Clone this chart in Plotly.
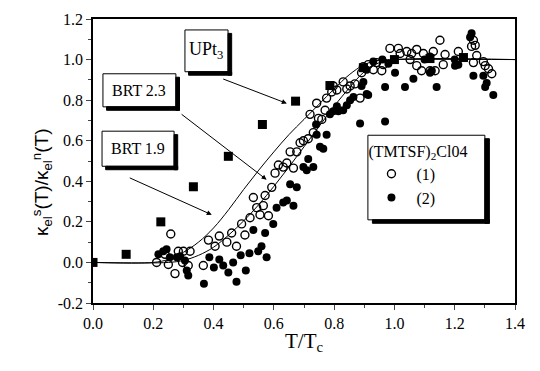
import plotly.graph_objects as go

# UPt3 data (filled squares)
upt3_t = [0.0, 0.11, 0.225, 0.333, 0.449, 0.562, 0.672, 0.786, 0.897, 1.0, 1.118, 1.229]
upt3_k = [0.0, 0.04, 0.2, 0.373, 0.523, 0.68, 0.795, 0.872, 0.96, 1.0, 1.005, 1.01]

# BRT theory curves
brt19_t = [0.0, 0.2, 0.25, 0.3, 0.35, 0.4, 0.45, 0.5, 0.55, 0.6, 0.65, 0.7, 0.75, 0.8, 0.85, 0.9, 0.95, 1.0, 1.4]
brt19_k = [0.0, 0.0, 0.015, 0.05, 0.1, 0.17, 0.26, 0.36, 0.455, 0.545, 0.63, 0.705, 0.78, 0.855, 0.925, 0.975, 0.997, 1.0, 1.0]
brt23_t = [0.0, 0.25, 0.3, 0.35, 0.4, 0.45, 0.5, 0.55, 0.6, 0.65, 0.7, 0.75, 0.8, 0.85, 0.9, 0.95, 1.0, 1.4]
brt23_k = [0.0, 0.0, 0.01, 0.035, 0.075, 0.135, 0.205, 0.285, 0.375, 0.47, 0.57, 0.67, 0.77, 0.86, 0.94, 0.985, 1.0, 1.0]

# (TMTSF)2ClO4 sample (1), open circles
s1_t = [0.211, 0.239, 0.25, 0.258, 0.272, 0.283, 0.297, 0.30, 0.316, 0.322, 0.366, 0.383, 0.405, 0.419,
        0.444, 0.46, 0.476, 0.493, 0.504, 0.521, 0.532, 0.543, 0.554, 0.565, 0.571, 0.582, 0.593, 0.604,
        0.615, 0.631, 0.643, 0.654, 0.665, 0.676, 0.687, 0.698, 0.714, 0.72, 0.731, 0.742, 0.748, 0.759,
        0.77, 0.775, 0.792, 0.797, 0.809, 0.83, 0.842, 0.853, 0.869, 0.886, 0.891, 0.897, 0.913, 0.93,
        0.941, 0.958, 0.963, 0.985, 1.013, 1.019, 1.041, 1.052, 1.057, 1.074, 1.074, 1.09, 1.096, 1.118,
        1.129, 1.135, 1.151, 1.162, 1.168, 1.212, 1.256, 1.262, 1.268, 1.262, 1.273, 1.295, 1.301, 1.312, 1.323]
s1_k = [0.0, 0.04, -0.01, 0.14, -0.055, 0.055, 0.0, 0.055, -0.015, 0.055, -0.015, 0.11, 0.08, 0.13,
        0.10, 0.145, 0.08, 0.19, 0.135, 0.22, 0.32, 0.27, 0.235, 0.28, 0.33, 0.23, 0.37, 0.44,
        0.48, 0.47, 0.49, 0.545, 0.465, 0.545, 0.59, 0.60, 0.61, 0.73, 0.64, 0.785, 0.71, 0.705,
        0.75, 0.81, 0.84, 0.87, 0.85, 0.89, 0.855, 0.87, 0.88, 0.81, 0.935, 0.965, 0.975, 0.95,
        0.985, 0.945, 0.975, 1.055, 1.055, 1.03, 1.04, 1.0, 1.03, 1.05, 0.97, 0.945, 1.03, 0.945,
        1.04, 0.945, 1.095, 0.975, 1.025, 1.04, 1.065, 1.095, 1.07, 0.985, 1.02, 0.99, 0.97, 0.955, 0.93]

# (TMTSF)2ClO4 sample (2), filled circles
s2_t = [0.217, 0.233, 0.244, 0.255, 0.278, 0.289, 0.305, 0.311, 0.316, 0.368, 0.386, 0.401, 0.419, 0.432,
        0.449, 0.465, 0.476, 0.49, 0.507, 0.519, 0.532, 0.548, 0.559, 0.571, 0.576, 0.598, 0.609, 0.631,
        0.643, 0.654, 0.665, 0.676, 0.698, 0.709, 0.714, 0.731, 0.742, 0.74, 0.753, 0.764, 0.775, 0.786,
        0.797, 0.809, 0.814, 0.83, 0.842, 0.853, 0.864, 0.886, 0.891, 0.897, 0.908, 0.913, 0.908, 0.93,
        0.96, 0.969, 0.969, 0.98, 1.002, 1.035, 1.063, 1.1, 1.118, 1.118, 1.124, 1.14, 1.2, 1.201, 1.212,
        1.251, 1.256, 1.262, 1.295, 1.301, 1.306, 1.328]
s2_k = [0.04, 0.055, 0.065, 0.025, 0.025, 0.03, 0.01, -0.04, -0.065, -0.105, 0.025, -0.025, 0.015, -0.015,
        -0.05, 0.0, -0.095, 0.035, -0.04, 0.045, 0.16, 0.055, 0.08, 0.145, 0.025, 0.19, 0.27, 0.295,
        0.305, 0.385, 0.28, 0.37, 0.47, 0.455, 0.51, 0.47, 0.63, 0.68, 0.57, 0.56, 0.63, 0.73,
        0.745, 0.77, 0.745, 0.75, 0.775, 0.80, 0.815, 0.685, 0.87, 0.89, 0.83, 0.825, 0.95, 0.99,
        1.0, 0.695, 0.865, 0.98, 0.935, 0.865, 0.905, 1.0, 0.935, 1.015, 0.945, 0.865, 1.0, 0.97, 0.975,
        1.11, 1.13, 0.92, 0.92, 0.865, 0.885, 0.825]

serif = "Liberation Serif"

fig = go.Figure()
fig.add_trace(go.Scatter(x=brt19_t, y=brt19_k, mode="lines", line=dict(color="black", width=1),
                         showlegend=False, line_shape="spline"))
fig.add_trace(go.Scatter(x=brt23_t, y=brt23_k, mode="lines", line=dict(color="black", width=1),
                         showlegend=False, line_shape="spline"))
fig.add_trace(go.Scatter(x=upt3_t, y=upt3_k, mode="markers",
                         marker=dict(symbol="square", size=9, color="black"), showlegend=False))
fig.add_trace(go.Scatter(x=s1_t, y=s1_k, mode="markers", name="(1)",
                         marker=dict(symbol="circle-open", size=8, color="black", line=dict(width=1.4))))
fig.add_trace(go.Scatter(x=s2_t, y=s2_k, mode="markers", name="(2)",
                         marker=dict(symbol="circle", size=8, color="black")))


def framed_box(x0, x1, y0, y1, dx, dy):
    # white frame with a black drop shadow on the right and bottom
    fig.add_shape(type="rect", x0=x0, x1=x1, y0=y0, y1=y1,
                  fillcolor="white", line=dict(color="black", width=1), layer="above")
    fig.add_shape(type="rect", x0=x1, x1=x1 + dx, y0=y0 - dy, y1=y1 - dy,
                  fillcolor="black", line=dict(color="black", width=1), layer="above")
    fig.add_shape(type="rect", x0=x0 + dx, x1=x1 + dx, y0=y0 - dy, y1=y0,
                  fillcolor="black", line=dict(color="black", width=1), layer="above")


# boxed labels (data coords)
boxes = [
    (0.305, 0.448, 0.94, 1.146, "UPt<sub>3</sub>", 18),
    (0.033, 0.275, 0.767, 0.93, "BRT 2.3", 16),
    (0.030, 0.269, 0.474, 0.647, "BRT 1.9", 16),
]
for x0, x1, y0, y1, txt, fs in boxes:
    framed_box(x0, x1, y0, y1, 0.012, 0.017)
    fig.add_annotation(x=(x0 + x1) / 2, y=(y0 + y1) / 2, text=txt, showarrow=False,
                       font=dict(family=serif, size=fs, color="black"))

# arrows from labels to curves/points
arrows = [
    (0.427, 0.907, 0.643, 0.784),
    (0.289, 0.736, 0.576, 0.408),
    (0.117, 0.420, 0.394, 0.235),
]
for ax0, ay0, x1, y1 in arrows:
    fig.add_annotation(x=x1, y=y1, ax=ax0, ay=ay0, axref="x", ayref="y", text="",
                       showarrow=True, arrowhead=2, arrowsize=1, arrowwidth=1, arrowcolor="black")

# legend frame
framed_box(0.912, 1.30, 0.21, 0.627, 0.015, 0.017)

# y-axis title as a rotated annotation (it sits lower than the axis centre)
fig.add_annotation(xref="paper", yref="paper", x=-0.158, y=0.425, textangle=-90, showarrow=False,
                   text="κ<sub>el</sub><sup>s</sup>(T)/κ<sub>el</sub><sup>n</sup>(T)",
                   font=dict(family="Liberation Sans", size=19, color="black"))

fig.update_layout(
    width=540, height=371,
    margin=dict(l=93, r=25, t=11, b=68),
    plot_bgcolor="white", paper_bgcolor="white",
    font=dict(family=serif, size=16, color="black"),
    legend=dict(x=0.648, y=0.588, xanchor="left", yanchor="top",
                bgcolor="rgba(0,0,0,0)", borderwidth=0,
                title=dict(text="(TMTSF)<sub>2</sub>Cl04", font=dict(family=serif, size=16)),
                font=dict(family=serif, size=16), itemwidth=40),
    xaxis=dict(range=[0, 1.4], tickvals=[0, 0.2, 0.4, 0.6, 0.8, 1.0, 1.2, 1.4],
               ticktext=["0.0", "0.2", "0.4", "0.6", "0.8", "1.0", "1.2", "1.4"],
               showgrid=False, zeroline=False, showline=True, linecolor="black", linewidth=1.5,
               mirror=True, ticks="outside", ticklen=5, tickwidth=1.2,
               minor=dict(dtick=0.1, ticks="outside", ticklen=3, tickwidth=1),
               title=dict(text="T/T<sub>c</sub>", font=dict(family=serif, size=21), standoff=2)),
    yaxis=dict(range=[-0.2, 1.2], tickvals=[-0.2, 0, 0.2, 0.4, 0.6, 0.8, 1.0, 1.2],
               ticktext=["-0.2", "0.0", "0.2", "0.4", "0.6", "0.8", "1.0", "1.2"],
               showgrid=False, zeroline=False, showline=True, linecolor="black", linewidth=1.5,
               mirror=True, ticks="outside", ticklen=5, tickwidth=1.2,
               minor=dict(dtick=0.1, ticks="outside", ticklen=3, tickwidth=1)),
)

fig.write_html("out.html", config={"displayModeBar": False},
               post_script="document.body.style.margin='0';")
